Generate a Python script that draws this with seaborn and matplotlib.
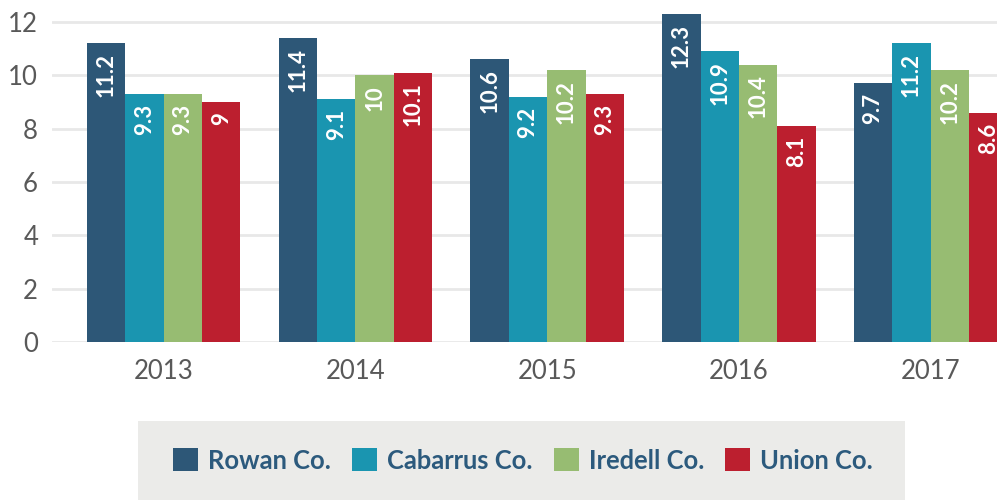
import matplotlib
matplotlib.use("Agg")
import matplotlib.pyplot as plt
import matplotlib.patches as mpatches
import pandas as pd
import seaborn as sns

# Values per county and year
years = ["2013", "2014", "2015", "2016", "2017"]
counties = ["Rowan Co.", "Cabarrus Co.", "Iredell Co.", "Union Co."]
rowan = [11.2, 11.4, 10.6, 12.3, 9.7]
cabarrus = [9.3, 9.1, 9.2, 10.9, 11.2]
iredell = [9.3, 10.0, 10.2, 10.4, 10.2]
union = [9.0, 10.1, 9.3, 8.1, 8.6]
y_ticks = [0, 2, 4, 6, 8, 10, 12]

colors = ["#2D5777", "#1A95B0", "#97BC72", "#BC1F2F"]
legend_text = "#2C5A7D"
tick_grey = "#595959"

series = [rowan, cabarrus, iredell, union]
df = pd.DataFrame(
    [(y, c, v) for c, vals in zip(counties, series) for y, v in zip(years, vals)],
    columns=["year", "county", "value"],
)

sns.set_style("white")
plt.rcParams["font.family"] = ["Lato", "DejaVu Sans"]

W, H = 997, 500
fig = plt.figure(figsize=(W / 100, H / 100), dpi=100)
ax = fig.add_axes([52 / W, 158 / H, 986 / W, 342 / H])

sns.barplot(
    data=df, x="year", y="value", hue="county", order=years, hue_order=counties,
    palette=colors, width=0.8, saturation=1, errorbar=None, legend=False, ax=ax,
    linewidth=0, zorder=3,
)

ax.set_xlim(-0.5825, 4.56)
ax.set_ylim(0, 12.83)
ax.set_yticks(y_ticks)
ax.set_yticklabels([str(t) for t in y_ticks])
ax.grid(axis="y", color="#E8E8E8", linewidth=2, zorder=0)
ax.grid(axis="x", visible=False)
ax.set_axisbelow(True)
for s in ax.spines.values():
    s.set_visible(False)
ax.set_xlabel("")
ax.set_ylabel("")
ax.tick_params(axis="both", length=0, labelsize=18.5, labelcolor=tick_grey)
ax.tick_params(axis="x", pad=12)
ax.tick_params(axis="y", pad=10)

# Value labels inside the top of each bar, rotated
for cont, vals in zip(ax.containers, series):
    for bar, v in zip(cont.patches, vals):
        ax.annotate(
            f"{v:g}", (bar.get_x() + bar.get_width() / 2, v),
            xytext=(0, -7), textcoords="offset points", rotation=90,
            ha="center", va="top", color="white", fontsize=16,
            fontweight="bold", zorder=5,
        )

# Legend panel
fig.patches.append(mpatches.Rectangle(
    (138 / W, 0), (905 - 138) / W, 79 / H, transform=fig.transFigure,
    facecolor="#EBEBE9", edgecolor="none", zorder=0,
))
handles = [mpatches.Patch(facecolor=c, edgecolor="none") for c in colors]
fig.legend(
    handles, counties, loc="center", bbox_to_anchor=(523 / W, 39.5 / H),
    ncol=4, frameon=False, prop={"family": ["Lato", "DejaVu Sans"], "weight": "bold", "size": 18.4},
    labelcolor=legend_text, handlelength=0.98, handleheight=0.98,
    handletextpad=0.39, columnspacing=0.82, borderpad=0,
)

fig.savefig("out.png", dpi=100)
